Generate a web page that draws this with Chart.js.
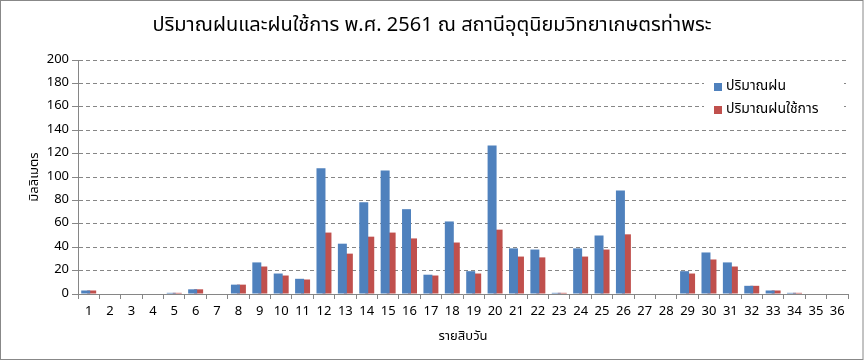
<!DOCTYPE html>
<html>
<head>
<meta charset="utf-8">
<script src="https://cdn.jsdelivr.net/npm/chart.js@4.4.1/dist/chart.umd.min.js"></script>
<style>
html,body{margin:0;padding:0;background:#fff;}
#wrap{position:relative;width:864px;height:361px;}
</style>
</head>
<body>
<div id="wrap"><canvas id="c" width="864" height="361"></canvas></div>
<script>
const chartTitle = "ปริมาณฝนและฝนใช้การ พ.ศ. 2561 ณ สถานีอุตุนิยมวิทยาเกษตรท่าพระ";
const xAxisTitle = "รายสิบวัน";
const yAxisTitle = "มิลลิเมตร";
const seriesNames = ["ปริมาณฝน", "ปริมาณฝนใช้การ"];
const categories = ["1","2","3","4","5","6","7","8","9","10","11","12","13","14","15","16","17","18","19","20","21","22","23","24","25","26","27","28","29","30","31","32","33","34","35","36"];
const rainfall = [3,0,0,0,1,4,0,8,27,17.5,13,107.5,43,78.5,105.5,72.5,16.5,62,19.5,127,39,38,1,39,50,88.5,0,0,19.5,35.5,27,7,3,1,0,0];
const effectiveRain = [3,0,0,0,1,4,0,8,23.5,15.8,12.4,52.5,34.5,49,52.5,47.5,15.8,44,17.5,55,32,31.3,1,32,38,51,0,0,17.5,29.5,23.5,7,3,1,0,0];
const yTicks = {min:0, max:200, step:20};

const FONT = "Tahoma, 'Noto Sans Thai', 'Loma', 'Garuda', 'DejaVu Sans', sans-serif";
const colors = ["#4F81BD", "#C0504D"];

const decor = {
  id: 'decor',
  afterDraw(chart) {
    const ctx = chart.ctx;
    ctx.save();
    ctx.fillStyle = "#000";
    ctx.font = "20px " + FONT;
    ctx.textAlign = "center";
    ctx.textBaseline = "middle";
    ctx.fillText(chartTitle, 432, 27);
    ctx.font = "14px " + FONT;
    ctx.textAlign = "left";
    const lx = 714, ys = [87, 110];
    chart.data.datasets.forEach((ds, i) => {
      ctx.fillStyle = ds.backgroundColor;
      ctx.fillRect(lx, ys[i] - 4, 8, 8);
      ctx.fillStyle = "#000";
      ctx.fillText(ds.label, lx + 12, ys[i]);
    });
    ctx.strokeStyle = "#888";
    ctx.lineWidth = 1;
    ctx.strokeRect(0.5, 0.5, 862.5, 359);
    ctx.restore();
  },
  beforeDatasetsDraw(chart) {
    const ctx = chart.ctx;
    ctx.save();
    ctx.fillStyle = "#fff";
    ctx.fillRect(704, 74, 140, 48);
    ctx.restore();
  }
};

new Chart(document.getElementById('c'), {
  type: 'bar',
  data: {
    labels: categories,
    datasets: [
      {label: seriesNames[0], data: rainfall, backgroundColor: colors[0], categoryPercentage: 0.56, barPercentage: 1.5},
      {label: seriesNames[1], data: effectiveRain, backgroundColor: colors[1], categoryPercentage: 0.56, barPercentage: 1.5}
    ]
  },
  plugins: [decor],
  options: {
    responsive: false,
    animation: false,
    devicePixelRatio: 1,
    layout: {padding: {top: 60, right: 16, left: 0, bottom: 0}},
    plugins: {legend: {display: false}, title: {display: false}, tooltip: {enabled: false}},
    scales: {
      x: {
        grid: {display: true, drawOnChartArea: false, drawTicks: true, tickLength: 5, color: "#868686", offset: true},
        border: {display: true, color: "#868686", width: 1},
        ticks: {color: "#000", font: {family: FONT, size: 13}, padding: 6, maxRotation: 0, autoSkip: false},
        title: {display: true, text: xAxisTitle, color: "#000", font: {family: FONT, size: 13}, padding: {top: 4, bottom: 16}},
        afterFit(s) { s.height = 67; }
      },
      y: {
        min: yTicks.min, max: yTicks.max,
        grid: {color: "#868686", drawTicks: true, tickLength: 6, tickBorderDash: []},
        border: {display: true, color: "#868686", width: 1, dash: [4, 3]},
        ticks: {stepSize: yTicks.step, color: "#000", font: {family: FONT, size: 13}, padding: 3},
        title: {display: true, text: yAxisTitle, color: "#000", font: {family: FONT, size: 13}, padding: {top: 28, bottom: 0}},
        afterFit(s) { s.width = 78; }
      }
    }
  }
});
</script>
</body>
</html>
